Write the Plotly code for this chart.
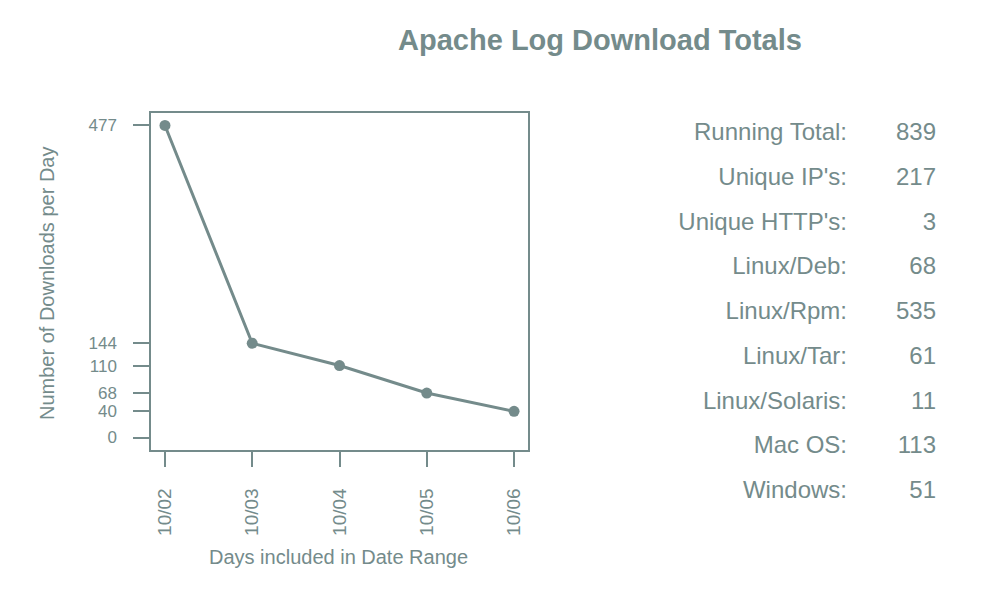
import plotly.graph_objects as go

# Data
days = ["10/02", "10/03", "10/04", "10/05", "10/06"]
downloads = [477, 144, 110, 68, 40]
y_ticks = [0, 40, 68, 110, 144, 477]

stat_labels = ["Running Total:", "Unique IP's:", "Unique HTTP's:", "Linux/Deb:",
               "Linux/Rpm:", "Linux/Tar:", "Linux/Solaris:", "Mac OS:", "Windows:"]
stat_values = [839, 217, 3, 68, 535, 61, 11, 113, 51]

COL = "#748b8b"
FONT = "Liberation Sans"
W, H = 986, 602

fig = go.Figure()

xi = list(range(len(days)))
fig.add_trace(go.Scatter(
    x=xi, y=downloads, mode="lines+markers",
    line=dict(color=COL, width=3),
    marker=dict(color=COL, size=11),
    xaxis="x", yaxis="y", showlegend=False, hoverinfo="skip"))

# Stats table as text traces on a helper axis
rows = list(range(len(stat_labels)))
fig.add_trace(go.Scatter(
    x=[847] * len(rows), y=rows, mode="text", text=stat_labels,
    textposition="middle left", textfont=dict(family=FONT, size=24, color=COL),
    xaxis="x2", yaxis="y2", showlegend=False, hoverinfo="skip"))
fig.add_trace(go.Scatter(
    x=[936] * len(rows), y=rows, mode="text", text=[str(v) for v in stat_values],
    textposition="middle left", textfont=dict(family=FONT, size=24, color=COL),
    xaxis="x2", yaxis="y2", showlegend=False, hoverinfo="skip"))

n = len(days) - 1
ymax = max(downloads)
row0, rowstep = 134, 44.75

fig.update_layout(
    width=W, height=H,
    margin=dict(l=0, r=0, t=0, b=0),
    paper_bgcolor="white", plot_bgcolor="rgba(0,0,0,0)",
    font=dict(family=FONT, color=COL, size=17),
    title=dict(text="<b>Apache Log Download Totals</b>", x=600 / W, y=1 - 40 / H,
               xanchor="center", yanchor="middle", xref="paper", yref="paper",
               font=dict(family=FONT, size=29, color=COL)),
    xaxis=dict(domain=[151 / W, 528 / W], range=[-0.04 * n, n * 1.04],
               tickvals=xi, ticktext=days, tickangle=-90,
               ticks="outside", ticklen=15, tickwidth=1.5, tickcolor=COL,
               ticklabelstandoff=14,
               showline=True, linecolor=COL, linewidth=1.5, mirror=True,
               showgrid=False, zeroline=False,
               tickfont=dict(family=FONT, size=19, color=COL)),
    yaxis=dict(domain=[(H - 450) / H, (H - 113) / H],
               range=[-0.04 * ymax, ymax * 1.04],
               tickvals=y_ticks, ticktext=[str(v) for v in y_ticks],
               ticks="outside", ticklen=16, tickwidth=1.5, tickcolor=COL,
               ticklabelstandoff=13,
               showline=True, linecolor=COL, linewidth=1.5, mirror=True,
               showgrid=False, zeroline=False,
               tickfont=dict(family=FONT, size=17, color=COL)),
    xaxis2=dict(domain=[0, 1], range=[0, W], visible=False, anchor="y2"),
    yaxis2=dict(domain=[0, 1], range=[(H - row0) / rowstep, -row0 / rowstep],
                visible=False, anchor="x2"),
    annotations=[
        dict(text="Number of Downloads per Day", textangle=-90,
             x=47 / W, y=1 - 284 / H, xref="paper", yref="paper",
             xanchor="center", yanchor="middle", showarrow=False,
             font=dict(family=FONT, size=20, color=COL)),
        dict(text="Days included in Date Range",
             x=338 / W, y=1 - 557 / H, xref="paper", yref="paper",
             xanchor="center", yanchor="middle", showarrow=False,
             font=dict(family=FONT, size=20, color=COL)),
    ],
)

fig.write_html("out.html")
